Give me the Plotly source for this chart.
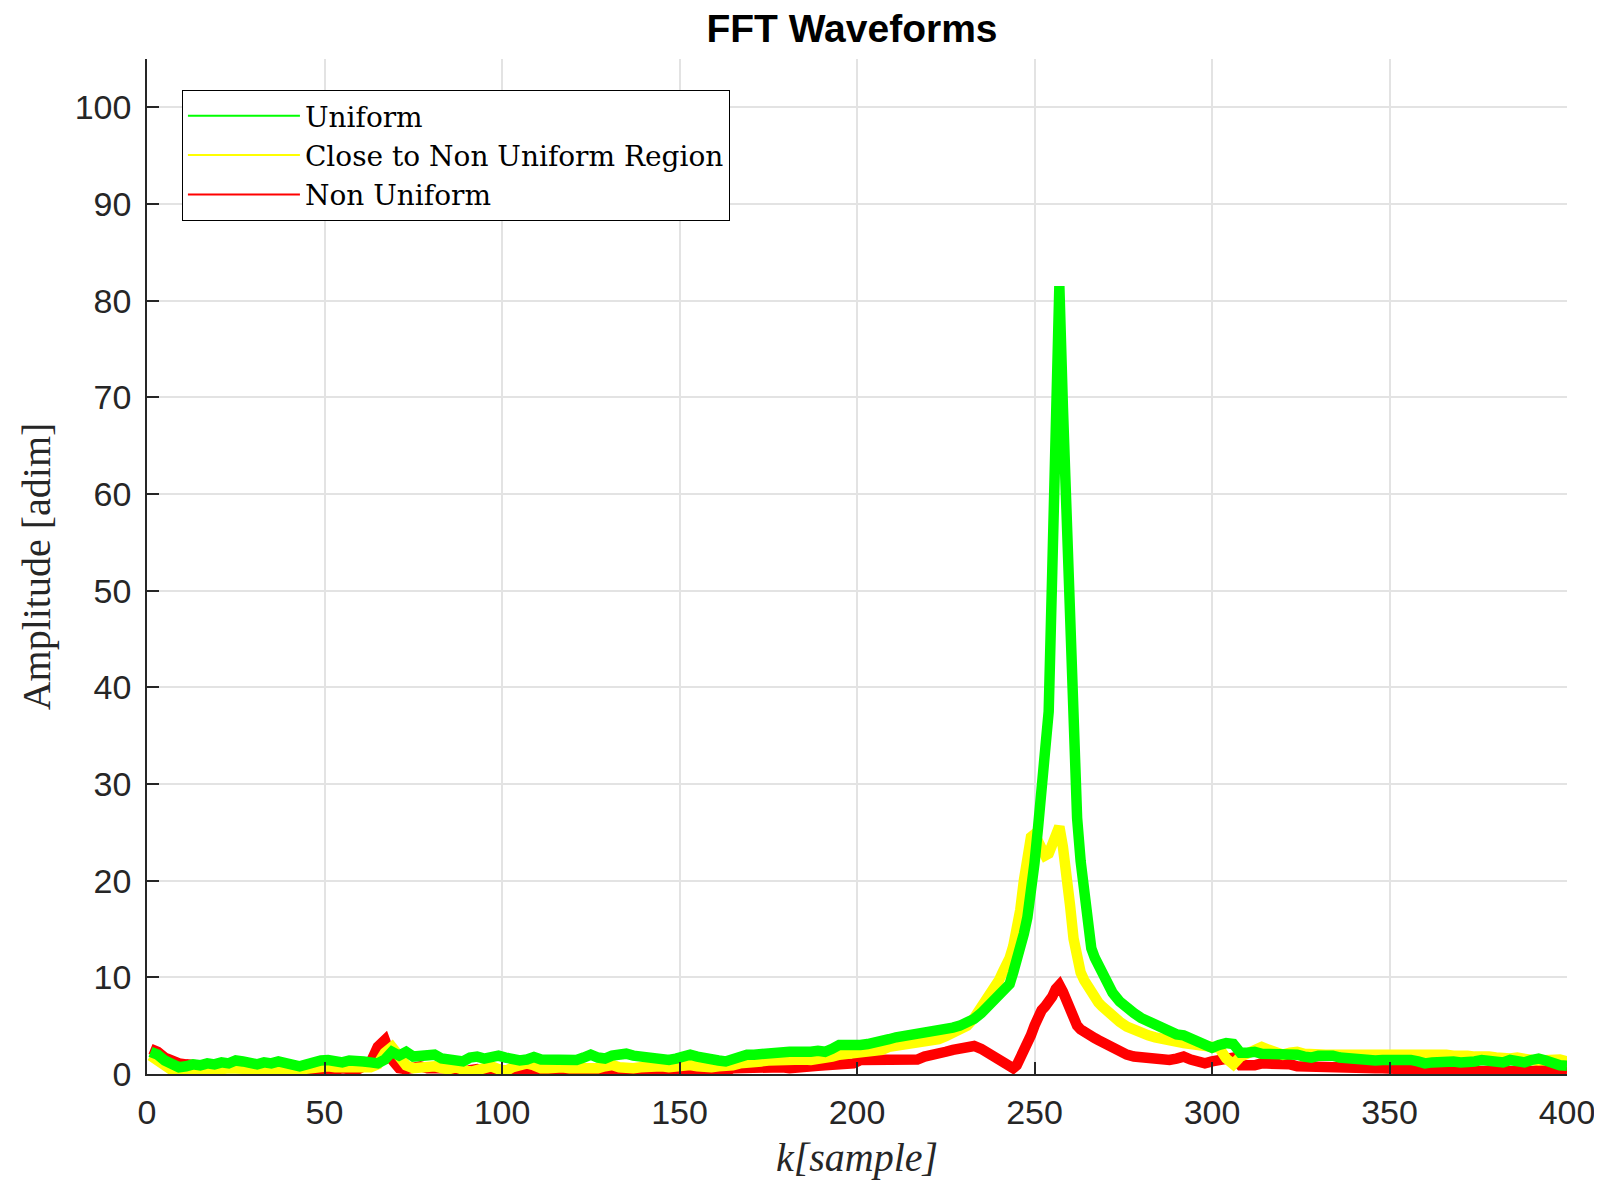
import plotly.graph_objects as go

# sample index: odd samples 1..239, every sample 240..270, even samples 272..400
K = list(range(1, 240, 2)) + list(range(240, 271)) + list(range(272, 401, 2))

UNIFORM = [
    2.3, 2.0, 1.4, 0.9, 0.7, 0.8, 1.0, 0.9, 1.1, 1.0, 1.2, 1.1, 1.4, 1.3, 1.1, 1.0, 1.2, 1.1, 1.3, 1.2,
    0.95, 0.8, 1.0, 1.3, 1.4, 1.45, 1.3, 1.2, 1.4, 1.45, 1.3, 1.2, 1.1, 1.5, 2.3, 1.9, 2.3, 1.8, 1.9, 2.1,
    2.0, 1.6, 1.45, 1.3, 1.3, 1.7, 1.8, 1.6, 1.7, 1.9, 1.7, 1.5, 1.4, 1.5, 1.75, 1.5, 1.45, 1.6, 1.6, 1.5,
    1.45, 1.7, 2.0, 1.7, 1.6, 1.9, 2.0, 2.1, 1.9, 1.8, 1.9, 1.85, 1.6, 1.45, 1.6, 1.8, 2.0, 1.8, 1.6, 1.45,
    1.4, 1.3, 1.6, 1.9, 2.0, 2.0, 2.1, 2.2, 2.3, 2.2, 2.3, 2.3, 2.2, 2.3, 2.4, 2.3, 2.6, 3.0, 3.0, 2.9,
    3.0, 3.1, 3.2, 3.3, 3.6, 3.8, 3.9, 4.1, 4.1, 4.3, 4.4, 4.5, 4.6, 4.8, 5.0, 5.3, 5.7, 6.3, 7.0, 7.6,
    8.0, 8.4, 8.7, 9.3, 10.5, 11.6, 12.8, 14.5, 16.2, 18.5, 21.8, 25.5, 30.0, 34.5, 37.5, 52.0, 67.0, 81.5,
    69.0, 56.0, 43.0, 31.0, 26.5, 22.0, 18.5, 15.0, 13.0, 12.0, 11.2, 10.3, 9.6,
    8.4, 7.5, 6.8, 6.3, 5.8, 5.4, 5.0, 4.6, 4.3, 4.1, 4.0, 3.7, 3.5, 3.0, 2.7, 3.0, 3.2, 3.1, 2.2, 2.2,
    2.3, 2.1, 2.1, 2.2, 2.0, 2.1, 2.0, 1.8, 1.7, 1.9, 2.0, 1.9, 1.7, 1.6, 1.7, 1.5, 1.5, 1.4, 1.45, 1.5,
    1.3, 1.35, 1.45, 1.3, 1.1, 1.2, 1.3, 1.45, 1.3, 1.2, 1.15, 1.3, 1.45, 1.3, 1.15, 1.2, 1.45, 1.3, 1.2, 1.45,
    1.6, 1.4, 1.0, 0.9, 0.85,
]

CLOSE = [
    1.9, 1.4, 0.8, 0.4, 0.3, 0.3, 0.4, 0.4, 0.5, 0.4, 0.5, 0.6, 0.6, 0.5, 0.4, 0.5, 0.6, 0.5, 0.4, 0.3,
    0.4, 0.6, 0.6, 0.7, 0.8, 0.8, 0.7, 0.7, 0.8, 0.9, 0.8, 0.7, 1.0, 2.2, 2.8, 1.8, 0.9, 0.6, 0.7, 0.8,
    0.8, 0.6, 0.5, 0.7, 0.5, 0.2, 0.4, 0.6, 0.8, 0.5, 0.3, 0.7, 0.9, 1.1, 0.9, 0.6, 0.6, 0.7, 0.7, 0.6,
    0.6, 0.5, 0.5, 0.6, 0.8, 0.93, 0.7, 0.6, 0.6, 0.7, 0.8, 0.93, 0.8, 0.7, 0.8, 0.9, 0.93, 0.8, 0.7, 0.7,
    0.8, 0.8, 0.9, 1.1, 1.1, 1.2, 1.3, 1.4, 1.45, 1.5, 1.6, 1.6, 1.5, 1.45, 1.5, 1.6, 1.8, 2.0, 2.1, 2.1,
    2.2, 2.3, 2.3, 2.5, 2.8, 2.9, 3.0, 3.1, 3.2, 3.4, 3.5, 3.6, 3.9, 4.3, 4.6, 5.0, 5.8, 6.8, 7.8, 9.2,
    9.7, 10.5, 11.2, 12.0, 13.2, 14.8, 17.0, 20.0, 23.0, 24.5, 24.8, 24.0, 23.0, 22.6, 22.8, 24.0, 25.2, 25.6,
    23.5, 21.0, 17.5, 14.0, 12.0, 10.5, 9.7, 9.0, 8.3, 7.8, 7.4, 7.0, 6.6,
    5.9, 5.4, 4.9, 4.5, 4.2, 4.0, 3.8, 3.6, 3.5, 3.3, 3.2, 3.1, 3.0, 2.9, 2.8, 2.7, 1.6, 1.0, 1.8, 2.2,
    2.6, 2.8, 2.5, 2.3, 2.0, 2.2, 2.3, 2.1, 2.0, 2.1, 2.0, 2.0, 2.1, 2.0, 2.0, 1.9, 2.0, 2.0, 2.0, 2.0,
    2.1, 2.0, 2.1, 2.2, 2.1, 2.0, 2.1, 2.0, 1.9, 2.0, 1.9, 1.8, 1.9, 1.8, 1.7, 1.6, 1.6, 1.7, 1.5, 1.45,
    1.4, 1.45, 1.5, 1.5, 1.3,
]

NON_UNIFORM = [
    2.6, 2.3, 1.7, 1.3, 1.1, 1.0, 0.9, 0.9, 0.8, 0.7, 1.0, 0.9, 0.6, 0.7, 0.8, 0.7, 0.5, 0.4, 0.6, 0.7,
    0.4, 0.3, 0.5, 0.5, 0.3, 0.2, 0.5, 0.6, 0.5, 0.4, 0.8, 1.2, 2.8, 3.5, 1.5, 0.6, 0.5, 0.7, 0.8, 0.6,
    0.6, 0.7, 0.6, 0.3, 0.2, 0.4, 0.5, 0.3, 0.3, 0.2, 0.3, 0.4, 0.3, 0.25, 0.25, 0.3, 0.3, 0.4, 0.4, 0.45,
    0.5, 0.4, 0.35, 0.35, 0.4, 0.4, 0.3, 0.25, 0.4, 0.5, 0.45, 0.35, 0.3, 0.25, 0.3, 0.4, 0.5, 0.35, 0.25, 0.15,
    0.1, 0.3, 0.6, 0.65, 0.7, 0.7, 0.7, 0.75, 0.76, 0.7, 0.6, 0.6, 0.7, 0.8, 0.85, 0.9, 0.93, 0.93, 0.9, 1.1,
    1.45, 1.45, 1.4, 1.45, 1.5, 1.6, 1.6, 1.5, 1.5, 1.8, 1.9, 2.0, 2.3, 2.5, 2.7, 2.8, 2.9, 2.6, 2.1, 1.6,
    1.3, 1.1, 0.9, 0.75, 0.6, 0.9, 1.6, 2.3, 3.0, 4.0, 5.0, 6.0, 6.6, 7.0, 7.4, 8.0, 8.8, 9.2,
    8.5, 7.5, 6.5, 5.6, 5.0, 4.6, 4.3, 4.1, 3.9, 3.7, 3.5, 3.3, 3.0,
    2.7, 2.4, 2.0, 1.8, 1.7, 1.6, 1.5, 1.45, 1.45, 1.6, 1.8, 1.5, 1.3, 1.1, 1.3, 1.45, 1.6, 1.7, 0.9, 0.8,
    0.9, 1.1, 1.1, 1.0, 0.95, 1.0, 0.8, 0.76, 0.8, 0.9, 0.85, 0.85, 0.7, 0.6, 0.7, 0.65, 0.6, 0.6, 0.6, 0.65,
    0.6, 0.5, 0.5, 0.55, 0.5, 0.3, 0.25, 0.3, 0.35, 0.3, 0.25, 0.3, 0.35, 0.5, 0.3, 0.3, 0.25, 0.4, 0.35, 0.3,
    0.4, 0.35, 0.4, 0.3, 0.2,
]

assert len(K) == len(UNIFORM) == len(CLOSE) == len(NON_UNIFORM)

X_TICKS = [0, 50, 100, 150, 200, 250, 300, 350, 400]
Y_TICKS = [0, 10, 20, 30, 40, 50, 60, 70, 80, 90, 100]

SERIES = [  # (name, values, colour) in legend order
    ("Uniform", UNIFORM, "#00FF00"),
    ("Close to Non Uniform Region", CLOSE, "#FFFF00"),
    ("Non Uniform", NON_UNIFORM, "#FF0000"),
]

fig = go.Figure()
# thick data lines, drawn red first so green ends on top
for name, vals, col in reversed(SERIES):
    fig.add_trace(go.Scatter(x=K, y=vals, mode="lines", name=name, showlegend=False,
                             line=dict(color=col, width=10.5)))
# thin legend entries
for name, vals, col in SERIES:
    fig.add_trace(go.Scatter(x=[None], y=[None], mode="lines", name=name,
                             line=dict(color=col, width=2)))

AX = "#262626"
W, H = 1594, 1172  # page body adds an 8px margin
fig.update_layout(
    width=W, height=H,
    margin=dict(l=139, r=35, t=51, b=106),
    paper_bgcolor="white", plot_bgcolor="white",
    title=dict(text="<b>FFT Waveforms</b>", x=844 / W, xref="container", xanchor="center",
               y=1 - 20 / H, yref="container", yanchor="middle",
               font=dict(family="Liberation Sans", size=39, color="black")),
    showlegend=True,
    legend=dict(x=0.0246, y=0.9695, xanchor="left", yanchor="top",
                bgcolor="white", bordercolor="black", borderwidth=1,
                itemwidth=112, font=dict(family="DejaVu Serif", size=28, color="black"),
                tracegroupgap=0),
    xaxis=dict(range=[0, 400], tickvals=X_TICKS, ticks="inside", ticklen=12, tickwidth=1.5,
               tickcolor=AX, showline=True, linecolor=AX, linewidth=1.5, automargin=False,
               showgrid=True, gridcolor="#E3E3E3", gridwidth=1.5, zeroline=False,
               tickfont=dict(family="Liberation Sans", size=34, color=AX),
               ticklabelstandoff=7,
               title=dict(text="<i>k[sample]</i>", standoff=15,
                          font=dict(family="Liberation Serif", size=40, color=AX))),
    yaxis=dict(range=[0, 105], tickvals=Y_TICKS, ticks="inside", ticklen=12, tickwidth=1.5,
               tickcolor=AX, showline=True, linecolor=AX, linewidth=1.5, automargin=False,
               showgrid=True, gridcolor="#E3E3E3", gridwidth=1.5, zeroline=False,
               tickfont=dict(family="Liberation Sans", size=34, color=AX),
               ticklabelstandoff=7,
               title=dict(text="Amplitude [adim]", standoff=12,
                          font=dict(family="Liberation Serif", size=40, color=AX))),
)

fig.write_html("out.html")
